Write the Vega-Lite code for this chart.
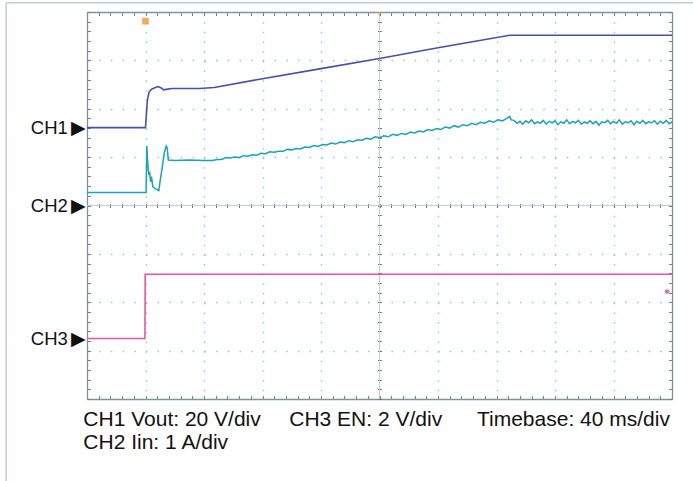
{
  "$schema": "https://vega.github.io/schema/vega-lite/v6.json",
  "width": 585,
  "height": 387,
  "autosize": {"type": "none"},
  "padding": {"left": 87, "top": 12, "right": 21, "bottom": 82},
  "background": "white",
  "config": {"view": {"stroke": null}, "font": "Liberation Sans"},
  "datasets": {
    "ch1": [
      {"t": 0, "v": 1.61}, {"t": 40, "v": 1.61}, {"t": 40.7, "v": 1.93}, {"t": 41.3, "v": 2.18},
      {"t": 42.5, "v": 2.35}, {"t": 44, "v": 2.4}, {"t": 46, "v": 2.43}, {"t": 48.5, "v": 2.46},
      {"t": 50.8, "v": 2.43}, {"t": 52.4, "v": 2.39}, {"t": 54.2, "v": 2.4}, {"t": 58, "v": 2.42},
      {"t": 77, "v": 2.42}, {"t": 87, "v": 2.44}, {"t": 120, "v": 2.62}, {"t": 160, "v": 2.83},
      {"t": 200, "v": 3.04}, {"t": 240, "v": 3.26}, {"t": 289, "v": 3.52}, {"t": 400, "v": 3.52}
    ],
    "ch2": [
      {"t": 0, "v": 0.27}, {"t": 40.4, "v": 0.27}, {"t": 40.9, "v": 1.23}, {"t": 41.4, "v": 0.94},
      {"t": 41.9, "v": 0.73}, {"t": 42.3, "v": 0.63}, {"t": 42.8, "v": 0.7}, {"t": 43.5, "v": 0.49},
      {"t": 44.1, "v": 0.6}, {"t": 45.0, "v": 0.39}, {"t": 46.2, "v": 0.36}, {"t": 47.8, "v": 0.33},
      {"t": 49.1, "v": 0.31}, {"t": 50.1, "v": 0.53}, {"t": 51.5, "v": 0.8}, {"t": 52.8, "v": 1.08},
      {"t": 54.2, "v": 1.23}, {"t": 54.9, "v": 1.18}, {"t": 55.6, "v": 0.94}, {"t": 60, "v": 0.93},
      {"t": 70, "v": 0.94}, {"t": 80, "v": 0.93}, {"t": 86, "v": 0.93},
      {"t": 89, "v": 0.95}, {"t": 92, "v": 0.95}, {"t": 95, "v": 0.99}, {"t": 98, "v": 0.98},
      {"t": 101, "v": 1.0}, {"t": 104, "v": 0.99}, {"t": 107, "v": 1.03}, {"t": 110, "v": 1.02},
      {"t": 113, "v": 1.05}, {"t": 116, "v": 1.04}, {"t": 119, "v": 1.08}, {"t": 122, "v": 1.07},
      {"t": 125, "v": 1.11}, {"t": 128, "v": 1.1}, {"t": 131, "v": 1.12}, {"t": 134, "v": 1.12},
      {"t": 137, "v": 1.16}, {"t": 140, "v": 1.15}, {"t": 143, "v": 1.18}, {"t": 146, "v": 1.17},
      {"t": 149, "v": 1.21}, {"t": 152, "v": 1.2}, {"t": 155, "v": 1.24}, {"t": 158, "v": 1.22},
      {"t": 161, "v": 1.26}, {"t": 164, "v": 1.25}, {"t": 167, "v": 1.29}, {"t": 170, "v": 1.27},
      {"t": 173, "v": 1.31}, {"t": 176, "v": 1.3}, {"t": 179, "v": 1.34}, {"t": 182, "v": 1.32},
      {"t": 185, "v": 1.36}, {"t": 188, "v": 1.35}, {"t": 191, "v": 1.39}, {"t": 194, "v": 1.37},
      {"t": 197, "v": 1.42}, {"t": 200, "v": 1.4}, {"t": 203, "v": 1.44}, {"t": 206, "v": 1.42},
      {"t": 209, "v": 1.47}, {"t": 212, "v": 1.45}, {"t": 215, "v": 1.49}, {"t": 218, "v": 1.47},
      {"t": 221, "v": 1.52}, {"t": 224, "v": 1.5}, {"t": 227, "v": 1.54}, {"t": 230, "v": 1.52},
      {"t": 233, "v": 1.57}, {"t": 236, "v": 1.55}, {"t": 239, "v": 1.59}, {"t": 242, "v": 1.57},
      {"t": 245, "v": 1.62}, {"t": 248, "v": 1.6}, {"t": 251, "v": 1.65}, {"t": 254, "v": 1.62},
      {"t": 257, "v": 1.67}, {"t": 260, "v": 1.65}, {"t": 263, "v": 1.7}, {"t": 266, "v": 1.67},
      {"t": 269, "v": 1.72}, {"t": 272, "v": 1.7}, {"t": 275, "v": 1.75}, {"t": 278, "v": 1.72},
      {"t": 281, "v": 1.77}, {"t": 284, "v": 1.75}, {"t": 287, "v": 1.8}, {"t": 289, "v": 1.84},
      {"t": 290, "v": 1.77},
      {"t": 292, "v": 1.76}, {"t": 294, "v": 1.7}, {"t": 296, "v": 1.74}, {"t": 298, "v": 1.68},
      {"t": 300, "v": 1.75}, {"t": 302, "v": 1.71}, {"t": 304, "v": 1.77}, {"t": 306, "v": 1.69},
      {"t": 308, "v": 1.73}, {"t": 310, "v": 1.7}, {"t": 312, "v": 1.76}, {"t": 314, "v": 1.68},
      {"t": 316, "v": 1.74}, {"t": 318, "v": 1.71}, {"t": 320, "v": 1.75}, {"t": 322, "v": 1.67},
      {"t": 324, "v": 1.73}, {"t": 326, "v": 1.7}, {"t": 328, "v": 1.77}, {"t": 330, "v": 1.69},
      {"t": 332, "v": 1.74}, {"t": 334, "v": 1.71}, {"t": 336, "v": 1.76}, {"t": 338, "v": 1.68},
      {"t": 340, "v": 1.73}, {"t": 342, "v": 1.7}, {"t": 344, "v": 1.75}, {"t": 346, "v": 1.69},
      {"t": 348, "v": 1.74}, {"t": 350, "v": 1.66}, {"t": 352, "v": 1.73}, {"t": 354, "v": 1.71},
      {"t": 356, "v": 1.76}, {"t": 358, "v": 1.69}, {"t": 360, "v": 1.74}, {"t": 362, "v": 1.7},
      {"t": 364, "v": 1.77}, {"t": 366, "v": 1.68}, {"t": 368, "v": 1.73}, {"t": 370, "v": 1.71},
      {"t": 372, "v": 1.75}, {"t": 374, "v": 1.67}, {"t": 376, "v": 1.74}, {"t": 378, "v": 1.7},
      {"t": 380, "v": 1.76}, {"t": 382, "v": 1.69}, {"t": 384, "v": 1.73}, {"t": 386, "v": 1.71},
      {"t": 388, "v": 1.75}, {"t": 390, "v": 1.68}, {"t": 392, "v": 1.74}, {"t": 394, "v": 1.7},
      {"t": 396, "v": 1.76}, {"t": 398, "v": 1.69}, {"t": 400, "v": 1.73}
    ],
    "ch3": [
      {"t": 0, "v": -2.75}, {"t": 39.6, "v": -2.75}, {"t": 39.8, "v": -1.42}, {"t": 400, "v": -1.42}
    ],
    "one": [{}]
  },
  "resolve": {"axis": {"x": "independent", "y": "independent"}},
  "layer": [
    {
      "data": {"name": "one"},
      "mark": {"type": "rule", "color": "#bccdd8", "strokeWidth": 1.5, "clip": false},
      "encoding": {
        "x": {"datum": -55.3, "type": "quantitative", "scale": {"domain": [0, 400], "nice": false, "zero": false}, "axis": null},
        "y": {"datum": 4.19, "type": "quantitative", "scale": {"domain": [-4, 4], "nice": false, "zero": false}, "axis": null},
        "y2": {"datum": -5.9}
      }
    },
    {
      "data": {"name": "one"},
      "mark": {"type": "rule", "color": "#bccdd8", "strokeWidth": 1.5, "clip": false},
      "encoding": {
        "x": {"datum": -55.3, "type": "quantitative", "scale": {"domain": [0, 400], "nice": false, "zero": false}, "axis": null},
        "x2": {"datum": 430},
        "y": {"datum": 4.19, "type": "quantitative", "scale": {"domain": [-4, 4], "nice": false, "zero": false}, "axis": null}
      }
    },
    {
      "data": {"name": "one"},
      "mark": {"type": "rule", "color": "#c3cbcf", "strokeWidth": 1},
      "encoding": {
        "y": {
          "datum": 0, "type": "quantitative",
          "scale": {"domain": [-4, 4], "nice": false, "zero": false},
          "axis": {
            "orient": "left", "values": [1.61, 0, -2.75], "ticks": false, "domain": false, "grid": false,
            "labelExpr": "datum.value > 1 ? 'CH1\u2009▶' : (datum.value < -1 ? 'CH3\u2009▶' : 'CH2\u2009▶')",
            "labelFont": "Liberation Sans", "labelFontSize": 18.5, "labelColor": "#111111",
            "labelPadding": 1, "title": null
          }
        }
      }
    },
    {
      "data": {"name": "one"},
      "mark": {"type": "rule", "color": "#c3cbcf", "strokeWidth": 1},
      "encoding": {
        "x": {"datum": 200, "type": "quantitative", "scale": {"domain": [0, 400], "nice": false, "zero": false}, "axis": null}
      }
    },
    {
      "data": {"name": "ch3"},
      "mark": {"type": "line", "color": "#e2579f", "strokeWidth": 1.6},
      "encoding": {
        "x": {
          "field": "t", "type": "quantitative",
          "scale": {"domain": [0, 400], "nice": false, "zero": false},
          "axis": {
            "orient": "bottom", "title": null, "labels": false,
            "values": [0,8,16,24,32,40,48,56,64,72,80,88,96,104,112,120,128,136,144,152,160,168,176,184,192,200,208,216,224,232,240,248,256,264,272,280,288,296,304,312,320,328,336,344,352,360,368,376,384,392,400],
            "domain": true, "domainColor": "#7f9299", "domainWidth": 1.3,
            "ticks": true, "tickSize": -3.5, "tickColor": "#6f7f86", "tickWidth": 1,
            "grid": true, "gridColor": "#93c6de", "gridWidth": 1.4, "gridDash": [1.5, 8.175],
            "gridOpacity": {"condition": {"test": "datum.value % 40 == 0 && datum.value > 0 && datum.value < 400 && datum.value != 200", "value": 1}, "value": 0}
          }
        },
        "y": {
          "field": "v", "type": "quantitative",
          "scale": {"domain": [-4, 4], "nice": false, "zero": false},
          "axis": {
            "orient": "left", "title": null, "labels": false,
            "values": [-4,-3.8,-3.6,-3.4,-3.2,-3,-2.8,-2.6,-2.4,-2.2,-2,-1.8,-1.6,-1.4,-1.2,-1,-0.8,-0.6,-0.4,-0.2,0,0.2,0.4,0.6,0.8,1,1.2,1.4,1.6,1.8,2,2.2,2.4,2.6,2.8,3,3.2,3.4,3.6,3.8,4],
            "domain": true, "domainColor": "#7f9299", "domainWidth": 1.3,
            "ticks": true, "tickSize": -3.5, "tickColor": "#6f7f86", "tickWidth": 1,
            "grid": true, "gridColor": "#93c6de", "gridWidth": 1.4, "gridDash": [1.5, 10.19],
            "gridOpacity": {"condition": {"test": "abs(datum.value - round(datum.value)) < 0.01 && abs(datum.value) < 3.9 && abs(datum.value) > 0.1", "value": 1}, "value": 0}
          }
        }
      }
    },
    {
      "data": {"name": "ch2"},
      "mark": {"type": "line", "color": "#1ba2b6", "strokeWidth": 1.5},
      "encoding": {
        "x": {
          "field": "t", "type": "quantitative",
          "scale": {"domain": [0, 400], "nice": false, "zero": false},
          "axis": {
            "orient": "top", "title": null, "labels": false,
            "values": [0,8,16,24,32,40,48,56,64,72,80,88,96,104,112,120,128,136,144,152,160,168,176,184,192,200,208,216,224,232,240,248,256,264,272,280,288,296,304,312,320,328,336,344,352,360,368,376,384,392,400],
            "domain": true, "domainColor": "#7f9299", "domainWidth": 1.3,
            "ticks": true, "tickSize": -3.5, "tickColor": "#6f7f86", "tickWidth": 1, "grid": false
          }
        },
        "y": {
          "field": "v", "type": "quantitative",
          "scale": {"domain": [-4, 4], "nice": false, "zero": false},
          "axis": {
            "orient": "right", "title": null, "labels": false,
            "values": [-4,-3.8,-3.6,-3.4,-3.2,-3,-2.8,-2.6,-2.4,-2.2,-2,-1.8,-1.6,-1.4,-1.2,-1,-0.8,-0.6,-0.4,-0.2,0,0.2,0.4,0.6,0.8,1,1.2,1.4,1.6,1.8,2,2.2,2.4,2.6,2.8,3,3.2,3.4,3.6,3.8,4],
            "domain": true, "domainColor": "#7f9299", "domainWidth": 1.3,
            "ticks": true, "tickSize": -3.5, "tickColor": "#6f7f86", "tickWidth": 1, "grid": false
          }
        }
      }
    },
    {
      "data": {"name": "ch1"},
      "mark": {"type": "line", "color": "#4650a8", "strokeWidth": 1.6},
      "encoding": {
        "x": {
          "field": "t", "type": "quantitative",
          "scale": {"domain": [0, 400], "nice": false, "zero": false},
          "axis": {
            "orient": "bottom", "offset": -191.5, "title": null, "labels": false,
            "values": [0,8,16,24,32,40,48,56,64,72,80,88,96,104,112,120,128,136,144,152,160,168,176,184,192,200,208,216,224,232,240,248,256,264,272,280,288,296,304,312,320,328,336,344,352,360,368,376,384,392,400],
            "domain": false, "ticks": true, "tickSize": -4, "tickColor": "#66767d", "tickWidth": 1, "grid": false
          }
        },
        "y": {
          "field": "v", "type": "quantitative",
          "scale": {"domain": [-4, 4], "nice": false, "zero": false},
          "axis": {
            "orient": "left", "offset": -290.5, "title": null, "labels": false,
            "values": [-4,-3.8,-3.6,-3.4,-3.2,-3,-2.8,-2.6,-2.4,-2.2,-2,-1.8,-1.6,-1.4,-1.2,-1,-0.8,-0.6,-0.4,-0.2,0,0.2,0.4,0.6,0.8,1,1.2,1.4,1.6,1.8,2,2.2,2.4,2.6,2.8,3,3.2,3.4,3.6,3.8,4],
            "domain": false, "ticks": true, "tickSize": -4, "tickColor": "#66767d", "tickWidth": 1, "grid": false
          }
        }
      }
    },
    {
      "data": {"name": "one"},
      "mark": {"type": "point", "shape": "square", "filled": true, "size": 45, "color": "#f4a24e", "opacity": 0.9},
      "encoding": {
        "x": {"datum": 40, "type": "quantitative", "scale": {"domain": [0, 400], "nice": false, "zero": false}, "axis": null},
        "y": {"datum": 3.81, "type": "quantitative", "scale": {"domain": [-4, 4], "nice": false, "zero": false}, "axis": null}
      }
    },
    {
      "data": {"name": "one"},
      "mark": {"type": "point", "shape": "triangle-down", "filled": true, "size": 20, "color": "#f0a040"},
      "encoding": {
        "x": {"datum": 200, "type": "quantitative", "scale": {"domain": [0, 400], "nice": false, "zero": false}, "axis": null},
        "y": {"datum": 3.96, "type": "quantitative", "scale": {"domain": [-4, 4], "nice": false, "zero": false}, "axis": null}
      }
    },
    {
      "data": {"name": "one"},
      "mark": {"type": "point", "shape": "circle", "filled": true, "size": 24, "color": "#d8359c"},
      "encoding": {
        "x": {"datum": 396.6, "type": "quantitative", "scale": {"domain": [0, 400], "nice": false, "zero": false}, "axis": null},
        "y": {"datum": -1.78, "type": "quantitative", "scale": {"domain": [-4, 4], "nice": false, "zero": false}, "axis": null}
      }
    },
    {
      "data": {"name": "one"},
      "mark": {"type": "text", "text": "CH1 Vout: 20 V/div", "align": "left", "baseline": "alphabetic", "font": "Liberation Sans", "fontSize": 21, "color": "#111111", "clip": false},
      "encoding": {
        "x": {"datum": -2.5, "type": "quantitative", "scale": {"domain": [0, 400], "nice": false, "zero": false}, "axis": null},
        "y": {"datum": -4.55, "type": "quantitative", "scale": {"domain": [-4, 4], "nice": false, "zero": false}, "axis": null}
      }
    },
    {
      "data": {"name": "one"},
      "mark": {"type": "text", "text": "CH2 Iin: 1 A/div", "align": "left", "baseline": "alphabetic", "font": "Liberation Sans", "fontSize": 21, "color": "#111111", "clip": false},
      "encoding": {
        "x": {"datum": -2.5, "type": "quantitative", "scale": {"domain": [0, 400], "nice": false, "zero": false}, "axis": null},
        "y": {"datum": -5.03, "type": "quantitative", "scale": {"domain": [-4, 4], "nice": false, "zero": false}, "axis": null}
      }
    },
    {
      "data": {"name": "one"},
      "mark": {"type": "text", "text": "CH3 EN: 2 V/div", "align": "left", "baseline": "alphabetic", "font": "Liberation Sans", "fontSize": 21, "color": "#111111", "clip": false},
      "encoding": {
        "x": {"datum": 138.3, "type": "quantitative", "scale": {"domain": [0, 400], "nice": false, "zero": false}, "axis": null},
        "y": {"datum": -4.55, "type": "quantitative", "scale": {"domain": [-4, 4], "nice": false, "zero": false}, "axis": null}
      }
    },
    {
      "data": {"name": "one"},
      "mark": {"type": "text", "text": "Timebase: 40 ms/div", "align": "right", "baseline": "alphabetic", "font": "Liberation Sans", "fontSize": 21, "color": "#111111", "clip": false},
      "encoding": {
        "x": {"datum": 398.6, "type": "quantitative", "scale": {"domain": [0, 400], "nice": false, "zero": false}, "axis": null},
        "y": {"datum": -4.55, "type": "quantitative", "scale": {"domain": [-4, 4], "nice": false, "zero": false}, "axis": null}
      }
    }
  ]
}
